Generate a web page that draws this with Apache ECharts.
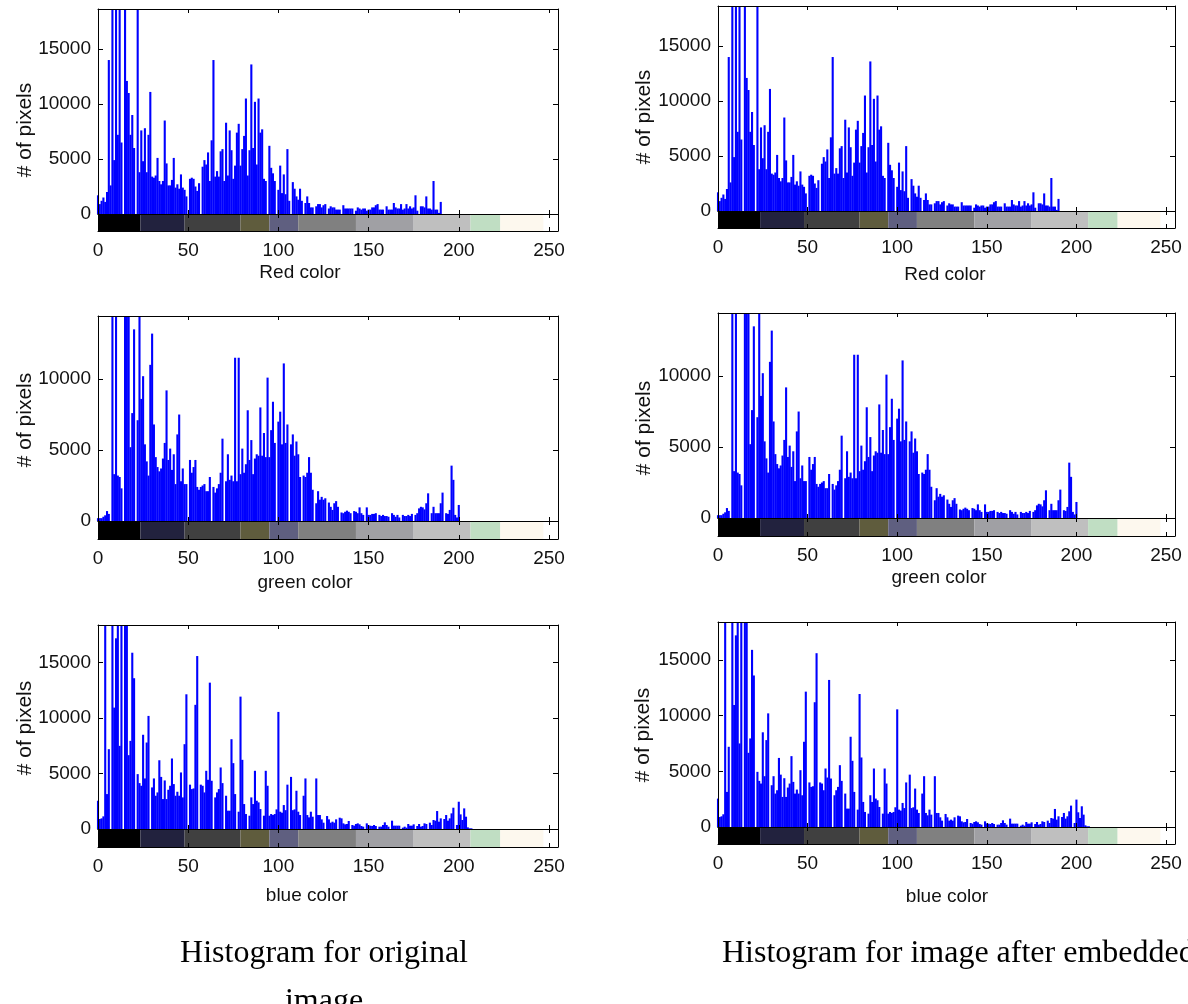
<!DOCTYPE html>
<html lang="en">
<head>
  <meta charset="UTF-8">
  <title>histograms</title>
  <style>
    html, body { margin: 0; padding: 0; background: #fff; }
    #hist { width: 1188px; height: 1004px; }
  </style>
</head>
<body>
  <div id="hist"></div>
  <script src="https://cdn.jsdelivr.net/npm/echarts@6/dist/echarts.min.js"></script>
  <script>
    // pixel counts per grey level (0..last non-empty bin)
    // bins going past the top of the axes are drawn as 25000
    var red = [
      1700, 900, 1200, 1500, 1100, 2000, 14000, 2600, 25000, 4900,
      25000, 7200, 25000, 6500, 0, 25000, 12100, 11000, 7200, 9000,
      6000, 0, 25000, 3800, 7600, 4800, 7800, 3800, 7200, 11100,
      3400, 3300, 3500, 5100, 3000, 2700, 3000, 8500, 4600, 2600,
      2600, 3100, 5100, 2400, 2700, 2300, 3600, 2400, 2200, 1600,
      0, 3200, 3300, 3200, 2500, 2100, 2800, 0, 4300, 4900,
      4500, 5600, 3000, 6700, 14000, 3400, 3900, 3400, 5700, 5900,
      3000, 8300, 3500, 7600, 5800, 3200, 4400, 7400, 8200, 4400,
      5900, 7100, 10500, 3500, 5800, 13600, 6000, 10200, 4500, 10500,
      7400, 7700, 3200, 3000, 0, 6200, 4200, 3700, 3000, 0,
      2200, 4400, 1900, 3600, 1800, 5900, 1200, 0, 2900, 2300,
      1600, 1300, 2300, 1200, 0, 1000, 1600, 1000, 600, 600,
      0, 700, 900, 900, 600, 800, 900, 0, 500, 700,
      600, 600, 400, 400, 400, 0, 800, 500, 500, 500,
      500, 500, 0, 300, 600, 500, 400, 500, 500, 300,
      400, 400, 600, 600, 800, 900, 400, 400, 400, 0,
      700, 400, 400, 400, 1000, 600, 500, 500, 900, 400,
      500, 900, 500, 700, 500, 600, 1700, 300, 0, 700,
      700, 600, 1600, 500, 500, 400, 3000, 400, 400, 100,
      1100
    ]
    var green = [
      200, 200, 200, 300, 400, 700, 500, 0, 25000, 3300,
      25000, 3200, 3100, 2300, 0, 25000, 25000, 25000, 5200, 7600,
      13500, 0, 7100, 25000, 8600, 10200, 5400, 4200, 3200, 11000,
      13200, 6800, 4500, 3800, 3500, 3700, 4400, 5500, 9200, 4300,
      5100, 3600, 4700, 2600, 6100, 7500, 2800, 3700, 2600, 2600,
      0, 4300, 3400, 3800, 4300, 2400, 2200, 2400, 2500, 2600,
      2100, 2100, 3100, 0, 2400, 2000, 2300, 2600, 3400, 5800,
      0, 2800, 4700, 2900, 3200, 2800, 11500, 2800, 11500, 3300,
      5100, 3400, 4000, 7800, 4300, 5700, 3300, 4400, 4700, 4600,
      8000, 4600, 6200, 4500, 10100, 4500, 6400, 8400, 5500, 0,
      7000, 7700, 5400, 11100, 5500, 6800, 0, 5400, 6100, 4600,
      5600, 4700, 3100, 0, 3200, 3100, 3400, 4500, 3400, 2200,
      0, 1250, 2100, 1500, 1700, 1500, 1600, 0, 1300, 1000,
      780, 1250, 1400, 1000, 0, 600, 550, 650, 730, 650,
      550, 0, 700, 650, 550, 960, 550, 430, 0, 960,
      430, 430, 500, 500, 550, 0, 430, 350, 430, 350,
      350, 300, 0, 550, 430, 300, 430, 250, 0, 430,
      350, 350, 430, 350, 500, 0, 430, 550, 890, 1000,
      960, 820, 1250, 1950, 0, 550, 1000, 550, 550, 550,
      1250, 2000, 0, 550, 500, 780, 3900, 2900, 430, 250,
      1130
    ]
    var blue = [
      2550, 900, 960, 1140, 25000, 3150, 7200, 0, 25000, 10950,
      17200, 25000, 7500, 25000, 0, 25000, 25000, 6660, 7950, 15900,
      13600, 0, 4950, 4140, 3900, 8500, 4560, 7800, 10200, 0,
      3750, 4560, 3000, 3300, 6200, 4700, 2700, 4380, 2700, 3540,
      3900, 6360, 4050, 3000, 3360, 3000, 5100, 2850, 7650, 12150,
      0, 4000, 3600, 3660, 11200, 15600, 0, 4000, 3900, 3300,
      5250, 4440, 13200, 4350, 0, 2850, 3300, 3600, 5550, 4140,
      0, 3000, 1650, 1650, 8100, 5940, 3150, 0, 1560, 11940,
      6240, 2250, 1350, 0, 1200, 2850, 2250, 5250, 2550, 2400,
      1800, 0, 1200, 5250, 3900, 1200, 1350, 1260, 1350, 1770,
      10560, 1560, 1470, 2160, 1700, 4000, 0, 4700, 1700, 1770,
      3450, 1560, 1260, 0, 3000, 4560, 1260, 1050, 1560, 1110,
      0, 4560, 1260, 1260, 870, 570, 0, 1170, 870, 570,
      660, 570, 870, 0, 1020, 960, 510, 420, 450, 720,
      0, 360, 300, 450, 510, 420, 270, 210, 0, 510,
      330, 300, 270, 360, 270, 0, 210, 210, 360, 600,
      360, 210, 0, 750, 300, 300, 300, 300, 0, 120,
      210, 120, 450, 300, 300, 420, 0, 270, 450, 210,
      270, 510, 450, 0, 570, 360, 810, 750, 1620, 660,
      960, 0, 900, 1260, 750, 960, 1410, 1920, 0, 360,
      2460, 1320, 810, 1860, 1110, 150, 60, 60
    ]
    // colour strip under each histogram (colormap of the image)
    var stripStart = [0, 23.5, 48, 79, 95, 111, 143, 175, 206.5, 223, 247]
    var stripEnd = [23.5, 48, 79, 95, 111, 143, 175, 206.5, 223, 247, 255]
    var stripColor = ['#000000', '#22223e', '#404040', '#5f5c3d', '#5f5f80', '#808080',
                      '#a0a0a4', '#bfbfbf', '#c0dec3', '#fdf8ee', '#ffffff']
    var xName = ['Red color', 'green color', 'blue color']
    var yName = '# of pixels'
    var captions = ['Histogram for original', 'image', 'Histogram for image after embedded']

    var channels = [red, green, blue]
    // layout of the six axes boxes (px)
    var cols = [{ left: 98, width: 460 }, { left: 718, width: 457 }]
    var rows = [
      [{ top: 9, base: 214, bottom: 231, max: 18640 }, { top: 316, base: 521, bottom: 539, max: 14440 }, { top: 625, base: 829, bottom: 847, max: 18400 }],
      [{ top: 6, base: 211, bottom: 228, max: 18640 }, { top: 313, base: 518, bottom: 536, max: 14440 }, { top: 622, base: 827, bottom: 844, max: 18400 }]
    ]
    var xNamePos = [[[300, 273], [305, 583], [307, 896]], [[945, 275], [939, 578], [947, 897]]]
    var yNamePos = [[[25, 130], [25, 420], [25, 728]], [[644, 117], [644, 428], [643, 735]]]

    var font = 'Liberation Sans, Arial, sans-serif'
    var line = { show: true, onZero: false, lineStyle: { color: '#000', width: 1 } }
    var plain = function (v) { return String(v) }
    var grid = [], xAxis = [], yAxis = [], series = [], graphic = []

    function xAx(gi, pos, labels) {
      return {
        type: 'value', gridIndex: gi, position: pos, min: 0, max: 255, interval: 50, z: 10,
        axisLine: line,
        axisTick: { show: true, inside: true, length: 4, lineStyle: { color: '#000' } },
        axisLabel: { show: labels, margin: 10, showMaxLabel: false, formatter: plain, color: '#111', fontSize: 19, fontFamily: font },
        splitLine: { show: false }
      }
    }
    function yAx(gi, pos, max, ticks, labels) {
      return {
        type: 'value', gridIndex: gi, position: pos, min: 0, max: max, interval: ticks ? 5000 : max, z: 10,
        axisLine: line,
        axisTick: { show: ticks, inside: true, length: 5, lineStyle: { color: '#000' } },
        axisLabel: { show: labels, margin: 7, showMaxLabel: false, formatter: plain, color: '#111', fontSize: 19, fontFamily: font },
        splitLine: { show: false }
      }
    }

    cols.forEach(function (c, ci) {
      rows[ci].forEach(function (r, ri) {
        var gH = grid.length
        grid.push({ left: c.left, top: r.top, width: c.width, height: r.base - r.top })
        grid.push({ left: c.left, top: r.base, width: c.width, height: r.bottom - r.base })
        var xi = xAxis.length, yi = yAxis.length
        xAxis.push(xAx(gH, 'bottom', false), xAx(gH, 'top', false), xAx(gH + 1, 'bottom', true), xAx(gH + 1, 'top', false))
        yAxis.push(yAx(gH, 'left', r.max, true, true), yAx(gH, 'right', r.max, true, false),
                   yAx(gH + 1, 'left', 1, false, false), yAx(gH + 1, 'right', 1, false, false))
        series.push({
          type: 'bar', xAxisIndex: xi, yAxisIndex: yi, barWidth: 2.1, clip: true,
          itemStyle: { color: '#0000ff' },
          data: channels[ri].map(function (v, i) { return [i, v] })
        })
        series.push({
          type: 'custom', xAxisIndex: xi + 2, yAxisIndex: yi + 2, clip: true,
          encode: { x: [0, 1] },
          data: stripStart.map(function (s, i) { return [s, stripEnd[i], i] }),
          renderItem: function (params, api) {
            var p0 = api.coord([api.value(0), 1])
            var p1 = api.coord([api.value(1), 0])
            return {
              type: 'rect',
              shape: { x: p0[0], y: p0[1], width: p1[0] - p0[0], height: p1[1] - p0[1] },
              style: { fill: stripColor[api.value(2)] }
            }
          }
        })
        graphic.push({
          type: 'text', x: xNamePos[ci][ri][0], y: xNamePos[ci][ri][1],
          style: { text: xName[ri], font: '19px ' + font, fill: '#111', textAlign: 'center', textVerticalAlign: 'middle' }
        })
        graphic.push({
          type: 'text', x: yNamePos[ci][ri][0], y: yNamePos[ci][ri][1], rotation: Math.PI / 2,
          style: { text: yName, font: '21px ' + font, fill: '#111', textAlign: 'center', textVerticalAlign: 'middle' }
        })
      })
    })

    var serif = '32px "Liberation Serif", "Times New Roman", serif'
    graphic.push({ type: 'text', x: 324, y: 954, style: { text: captions[0], font: serif, fill: '#000', textAlign: 'center', textVerticalAlign: 'middle' } })
    graphic.push({ type: 'text', x: 324, y: 1002, style: { text: captions[1], font: serif, fill: '#000', textAlign: 'center', textVerticalAlign: 'middle' } })
    graphic.push({ type: 'text', x: 722, y: 954, style: { text: captions[2], font: serif, fill: '#000', textAlign: 'left', textVerticalAlign: 'middle' } })

    var myChart = echarts.init(document.getElementById('hist'))
    myChart.setOption({
      animation: false,
      grid: grid,
      xAxis: xAxis,
      yAxis: yAxis,
      series: series,
      graphic: graphic
    })
  </script>
</body>
</html>
